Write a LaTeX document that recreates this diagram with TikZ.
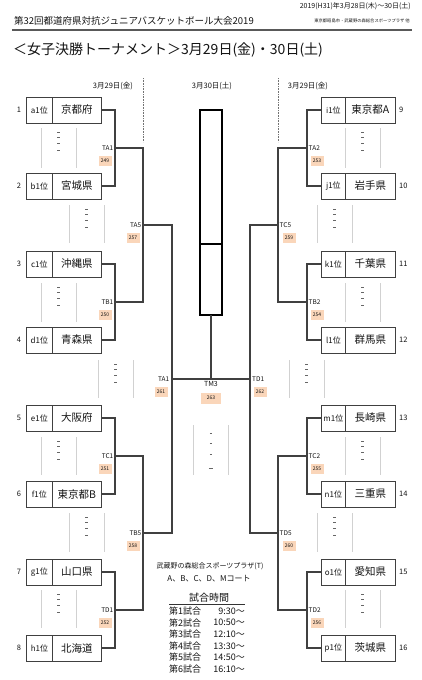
\documentclass[tikz,border=0pt]{standalone}
\usepackage{fontspec}
\setmainfont{Noto Sans CJK JP}
\definecolor{orng}{RGB}{250,214,186}
\definecolor{ink}{RGB}{20,20,20}
\newcommand\myplh[3]{%
  \draw[phl] (#1,#2) -- (#1,#3);
  \draw[phl] ({#1+35},#2) -- ({#1+35},#3);
  \foreach \d in {4,9,15,22} \draw[phd] ({#1+16.3},{#2+\d}) -- ({#1+18.7},{#2+\d});
}
\begin{document}
\begin{tikzpicture}[x=1pt,y=-1pt,
  txt/.style={inner sep=0pt, text=ink},
  rk/.style={draw=black!75, line width=0.8pt, minimum height=26pt, inner sep=0pt, anchor=west, text=ink, font=\fontsize{8}{9}\selectfont},
  nm/.style={draw=black!75, line width=0.8pt, minimum height=26pt, inner sep=0pt, anchor=west, text=ink, font=\fontsize{10.5}{12}\selectfont},
  br/.style={draw=black!75, line width=1.1pt},
  cb/.style={draw=black, line width=1.6pt, minimum width=22pt, inner sep=0pt, outer sep=0pt, anchor=north},
  mlab/.style={inner sep=0pt, text=ink, font=\fontsize{6.5}{7}\selectfont},
  mnum/.style={fill=orng, inner sep=0pt, minimum width=13pt, minimum height=10pt, text=ink, font=\fontsize{5}{6}\selectfont},
  numl/.style={inner sep=0pt, text=ink, font=\fontsize{7.5}{9}\selectfont},
  phl/.style={draw=black!18, line width=0.8pt},
  phd/.style={draw=black!60, line width=0.7pt},
  dt/.style={inner sep=0pt, text=ink, font=\fontsize{7.5}{9}\selectfont},
  dotl/.style={draw=black!55, line width=0.7pt, dash pattern=on 0.7pt off 0.9pt},
  sch/.style={inner sep=0pt, text=ink, font=\fontsize{9}{10}\selectfont}
]
\useasboundingbox (0,0) rectangle (422,680);
\fill[white] (0,0) rectangle (422,680);

% header
\node[txt, anchor=east, font=\fontsize{7}{8}\selectfont] (hdate) at (411,6) {2019(H31)年3月28日(木)～30日(土)};
\node[txt, anchor=west, font=\fontsize{9.5}{11}\selectfont] (htitle) at (14,21) {第32回都道府県対抗ジュニアバスケットボール大会2019};
\node[txt, anchor=east, font=\fontsize{4.3}{5}\selectfont] (hsub) at (410,21) {東京都昭島市・武蔵野の森総合スポーツプラザ 他};
\draw[black!65, line width=1.2pt] (12,30) -- (412,30);
\node[txt, anchor=west, font=\fontsize{14}{16}\selectfont] (title) at (13,50) {＜女子決勝トーナメント＞3月29日(金)・30日(土)};

% dates
\node[dt] (dl) at (113,86) {3月29日(金)};
\node[dt] (dc) at (212,86) {3月30日(土)};
\node[dt] (dr) at (308,86) {3月29日(金)};
\draw[dotl] (143,78) -- (143,142);
\draw[dotl] (278,78) -- (278,142);

% left boxes
\foreach \i/\y/\r/\n in {1/110/a1位/京都府, 2/186/b1位/宮城県, 3/264/c1位/沖縄県, 4/340/d1位/青森県, 5/418/e1位/大阪府, 6/494/f1位/東京都B, 7/572/g1位/山口県, 8/648/h1位/北海道}{
  \node[rk, minimum width=26pt] (r\i) at (26,\y) {\r};
  \node[nm, minimum width=49pt] (n\i) at (52,\y) {\n};
  \node[numl] (k\i) at (19,\y) {\i};
}
% right boxes
\foreach \i/\y/\r/\n in {9/110/i1位/東京都A, 10/186/j1位/岩手県, 11/264/k1位/千葉県, 12/340/l1位/群馬県, 13/418/m1位/長崎県, 14/494/n1位/三重県, 15/572/o1位/愛知県, 16/648/p1位/茨城県}{
  \node[rk, minimum width=24pt] (r\i) at (321,\y) {\r};
  \node[nm, minimum width=50pt] (n\i) at (345,\y) {\n};
  \node[numl, anchor=west] (k\i) at (399,\y) {\i};
}

% placeholders
\myplh{41}{128}{168}
\myplh{69}{205}{243}
\myplh{41}{283}{322}
\myplh{98}{360}{398}
\myplh{41}{437}{475}
\myplh{69}{513}{552}
\myplh{41}{590}{628}
\myplh{345}{128}{168}
\myplh{317}{205}{243}
\myplh{345}{283}{322}
\myplh{289}{360}{398}
\myplh{345}{437}{475}
\myplh{317}{513}{552}
\myplh{345}{590}{628}
% center placeholder
\draw[phl] (193,425) -- (193,475);
\draw[phl] (228,425) -- (228,475);
\foreach \d in {433,443,454} \draw[phd] (209.8,\d) -- (212.2,\d);
\draw[phd] (208.8,468) -- (213.2,468);

% junctions
\coordinate (mTA1) at (115,148);
\coordinate (mTB1) at (115,302);
\coordinate (mTC1) at (115,456);
\coordinate (mTD1) at (115,610);
\coordinate (mTA5) at (143,225);
\coordinate (mTB5) at (143,533);
\coordinate (mLA1) at (172,379);
\coordinate (mTA2) at (307,148);
\coordinate (mTB2) at (307,302);
\coordinate (mTC2) at (307,456);
\coordinate (mTD2) at (307,610);
\coordinate (mTC5) at (278,225);
\coordinate (mTD5) at (278,533);
\coordinate (mRD1) at (250,379);
\coordinate (mTM3) at (211,379);

% center box
\node[cb, minimum height=134pt] (ctop) at (211,110) {};
\node[cb, minimum height=71pt] (cbot) at (ctop.south) {};

% brackets left
\draw[br] (n1.east) -| (mTA1) |- (n2.east);
\draw[br] (n3.east) -| (mTB1) |- (n4.east);
\draw[br] (n5.east) -| (mTC1) |- (n6.east);
\draw[br] (n7.east) -| (mTD1) |- (n8.east);
\draw[br] (mTA1) -| (mTA5) |- (mTB1);
\draw[br] (mTC1) -| (mTB5) |- (mTD1);
\draw[br] (mTA5) -| (mLA1) |- (mTB5);
% brackets right
\draw[br] (r9.west) -| (mTA2) |- (r10.west);
\draw[br] (r11.west) -| (mTB2) |- (r12.west);
\draw[br] (r13.west) -| (mTC2) |- (r14.west);
\draw[br] (r15.west) -| (mTD2) |- (r16.west);
\draw[br] (mTA2) -| (mTC5) |- (mTB2);
\draw[br] (mTC2) -| (mTD5) |- (mTD2);
\draw[br] (mTC5) -| (mRD1) |- (mTD5);
% final
\draw[br] (mLA1) -- (mRD1);
\draw[br] (mTM3) -- (cbot.south);

% match labels left
\node[mlab, anchor=east] (lTA1) at ([xshift=-1.5pt]mTA1) {TA1};
\node[mnum] (bTA1) at ([shift={(-10,13)}]mTA1) {249};
\node[mlab, anchor=east] (lTB1) at ([xshift=-1.5pt]mTB1) {TB1};
\node[mnum] (bTB1) at ([shift={(-10,13)}]mTB1) {250};
\node[mlab, anchor=east] (lTC1) at ([xshift=-1.5pt]mTC1) {TC1};
\node[mnum] (bTC1) at ([shift={(-10,13)}]mTC1) {251};
\node[mlab, anchor=east] (lTD1) at ([xshift=-1.5pt]mTD1) {TD1};
\node[mnum] (bTD1) at ([shift={(-10,13)}]mTD1) {252};
\node[mlab, anchor=east] (lTA5) at ([xshift=-1.5pt]mTA5) {TA5};
\node[mnum] (bTA5) at ([shift={(-10,13)}]mTA5) {257};
\node[mlab, anchor=east] (lTB5) at ([xshift=-1.5pt]mTB5) {TB5};
\node[mnum] (bTB5) at ([shift={(-10,13)}]mTB5) {258};
\node[mlab, anchor=east] (lLA1) at ([xshift=-2.5pt]mLA1) {TA1};
\node[mnum] (bLA1) at ([shift={(-11,13)}]mLA1) {261};
% match labels right
\node[mlab, anchor=west] (lTA2) at ([xshift=1.5pt]mTA2) {TA2};
\node[mnum] (bTA2) at ([shift={(10,13)}]mTA2) {253};
\node[mlab, anchor=west] (lTB2) at ([xshift=1.5pt]mTB2) {TB2};
\node[mnum] (bTB2) at ([shift={(10,13)}]mTB2) {254};
\node[mlab, anchor=west] (lTC2) at ([xshift=1.5pt]mTC2) {TC2};
\node[mnum] (bTC2) at ([shift={(10,13)}]mTC2) {255};
\node[mlab, anchor=west] (lTD2) at ([xshift=1.5pt]mTD2) {TD2};
\node[mnum] (bTD2) at ([shift={(10,13)}]mTD2) {256};
\node[mlab, anchor=west] (lTC5) at ([xshift=1.5pt]mTC5) {TC5};
\node[mnum] (bTC5) at ([shift={(11,13)}]mTC5) {259};
\node[mlab, anchor=west] (lTD5) at ([xshift=1.5pt]mTD5) {TD5};
\node[mnum] (bTD5) at ([shift={(11,13)}]mTD5) {260};
\node[mlab, anchor=west] (lRD1) at ([xshift=2pt]mRD1) {TD1};
\node[mnum] (bRD1) at ([shift={(10,13)}]mRD1) {262};
% final label
\node[mlab, anchor=north, font=\fontsize{7}{8}\selectfont] (lTM3) at ([yshift=-2.5pt]mTM3) {TM3};
\node[mnum, minimum width=20pt, minimum height=11pt] (bTM3) at ([shift={(0,19)}]mTM3) {263};

% venue and schedule
\node[txt, font=\fontsize{7}{8}\selectfont] (venue) at (210,566) {武蔵野の森総合スポーツプラザ(T)};
\node[txt, font=\fontsize{8}{9}\selectfont] (courts) at (209,579) {A、B、C、D、Mコート};
\node[txt, font=\fontsize{10}{11}\selectfont] (stitle) at (209,598) {試合時間};
\draw[black!80, line width=0.8pt] (169,604.5) -- (245,604.5);
\foreach \k/\t/\y in {1/9:30～/611, 2/10:50～/622.6, 3/12:10～/634.2, 4/13:30～/645.8, 5/14:50～/657.4, 6/16:10～/669}{
  \node[sch, anchor=west] (g\k) at (169,\y) {第\k 試合};
  \node[sch, anchor=east] (t\k) at (245,\y) {\t};
}
\end{tikzpicture}
\end{document}
